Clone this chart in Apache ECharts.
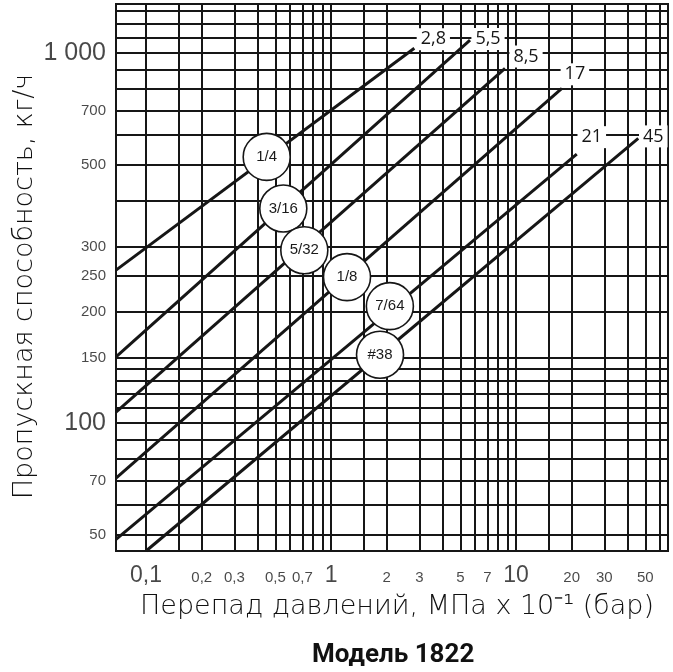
<!DOCTYPE html>
<html>
<head>
<meta charset="utf-8">
<script src="https://cdn.jsdelivr.net/npm/echarts@6/dist/echarts.min.js"></script>
<style>
  html, body { margin: 0; padding: 0; background: #fff; }
  #chart { width: 673px; height: 672px; }
</style>
</head>
<body>
<div id="chart"></div>
<script>
// axis ranges (log-log)
const xMin = 0.0688, xMax = 66.3;
const yMin = 45.1, yMax = 1357;

// grid lines of the chart paper
const gridX = [0.1, 0.15, 0.2, 0.3, 0.4, 0.5, 0.6, 0.7, 0.8, 0.9, 1, 1.5, 2, 3, 4, 5, 6, 7, 8, 9, 10, 15, 20, 30, 40, 50, 60];
const gridY = [50, 60, 70, 80, 90, 100, 110, 120, 130, 140, 150, 200, 250, 300, 400, 500, 600, 700, 800, 900, 1000, 1100, 1200, 1300];

// tick labels
const xTicks = [0.1, 0.2, 0.3, 0.5, 0.7, 1, 2, 3, 5, 7, 10, 20, 30, 50];
const xTickText = ['0,1', '0,2', '0,3', '0,5', '0,7', '1', '2', '3', '5', '7', '10', '20', '30', '50'];
const xTickBig = [0.1, 1, 10];
const yTicks = [50, 70, 100, 150, 200, 250, 300, 500, 700, 1000];
const yTickText = ['50', '70', '100', '150', '200', '250', '300', '500', '700', '1 000'];
const yTickBig = [100, 1000];

// orifice lines: size, max pressure drop, start and end points
const orifices = ['1/4', '3/16', '5/32', '1/8', '7/64', '#38'];
const maxDp = ['2,8', '5,5', '8,5', '17', '21', '45'];
const startX = [0.0688, 0.0688, 0.0688, 0.0688, 0.0688, 0.1];
const startY = [259, 151, 107, 71, 48.5, 45.1];
const endX = [2.82, 5.64, 8.72, 17.7, 21.3, 45.8];
const endY = [1030, 1084, 909, 803, 533, 588];

// where the round size badges sit
const badgeX = [0.449, 0.552, 0.717, 1.22, 2.08, 1.84];
const badgeY = [524, 380, 293, 248, 207, 153];

// end label offsets (px) from the line end
const endOffset = [[19, -9], [18, -1], [21, -12], [13, -14], [15, -17], [15, -2]];

const ink = '#161616';
const chart = echarts.init(document.getElementById('chart'));

const lineSeries = orifices.map((name, i) => ({
  type: 'line',
  name: name,
  z: 3,
  silent: true,
  symbol: 'none',
  data: [[startX[i], startY[i]], [endX[i], endY[i]]],
  lineStyle: { color: ink, width: 3 },
  endLabel: {
    show: true,
    formatter: maxDp[i],
    distance: 0,
    align: 'center',
    verticalAlign: 'middle',
    offset: endOffset[i],
    backgroundColor: '#fff',
    padding: [2, 4],
    fontFamily: 'Open Sans',
    fontSize: 18,
    color: ink
  }
}));

const option = {
  animation: false,
  title: {
    text: 'Модель 1822',
    left: 307,
    top: 637,
    textStyle: { fontFamily: 'Roboto', fontWeight: 'bold', fontSize: 26, color: '#111' }
  },
  grid: {
    left: 116, right: 5, top: 4, bottom: 121,
    show: true, borderColor: ink, borderWidth: 2, backgroundColor: '#fff'
  },
  xAxis: {
    type: 'log', logBase: 10, min: xMin, max: xMax,
    axisLine: { show: false }, axisTick: { show: false },
    axisLabel: { show: false }, splitLine: { show: false },
    name: 'Перепад давлений, МПа х 10⁻¹ (бар)',
    nameLocation: 'middle', nameGap: 42,
    nameTextStyle: { fontFamily: 'DejaVu Sans', fontWeight: 200, fontSize: 27, color: '#111', padding: [0, 0, 0, 10] }
  },
  yAxis: {
    type: 'log', logBase: 10, min: yMin, max: yMax,
    axisLine: { show: false }, axisTick: { show: false },
    axisLabel: { show: false }, splitLine: { show: false },
    name: 'Пропускная способность, кг/ч',
    nameLocation: 'middle', nameGap: 78, nameRotate: 90,
    nameTextStyle: { fontFamily: 'DejaVu Sans', fontWeight: 200, fontSize: 27, color: '#111', padding: [0, 18, 0, 0] }
  },
  series: [
    {
      type: 'line',
      z: 1,
      silent: true,
      data: [],
      markLine: {
        z: 1,
        silent: true,
        symbol: 'none',
        label: { show: false },
        lineStyle: { color: ink, width: 2, type: 'solid' },
        emphasis: { disabled: true },
        data: gridX.map(v => ({ xAxis: v })).concat(gridY.map(v => ({ yAxis: v })))
      }
    },
    ...lineSeries,
    {
      type: 'scatter',
      z: 5,
      silent: true,
      symbolSize: 47,
      itemStyle: { color: '#fff', borderColor: ink, borderWidth: 1.6, opacity: 1 },
      label: {
        show: true, position: 'inside',
        formatter: p => orifices[p.dataIndex],
        fontFamily: 'Liberation Sans', fontSize: 15, color: '#1a1a1a'
      },
      data: badgeX.map((x, i) => [x, badgeY[i]])
    },
    {
      type: 'scatter',
      z: 2,
      silent: true,
      clip: false,
      symbolSize: 0,
      label: {
        show: true, position: 'bottom', verticalAlign: 'middle',
        formatter: p => xTickText[p.dataIndex],
        fontFamily: 'Liberation Sans', color: '#1a1a1a'
      },
      data: xTicks.map(v => {
        const big = xTickBig.includes(v);
        return { value: [v, yMin], label: { fontSize: big ? 23 : 15, distance: big ? 25 : 27 } };
      })
    },
    {
      type: 'scatter',
      z: 2,
      silent: true,
      clip: false,
      symbolSize: 0,
      label: {
        show: true, position: 'left', distance: 10,
        formatter: p => yTickText[p.dataIndex],
        fontFamily: 'Liberation Sans', color: '#1a1a1a'
      },
      data: yTicks.map(v => {
        const big = yTickBig.includes(v);
        return { value: [xMin, v], label: { fontSize: big ? 25 : 15 } };
      })
    }
  ]
};

chart.setOption(option);
</script>
</body>
</html>
